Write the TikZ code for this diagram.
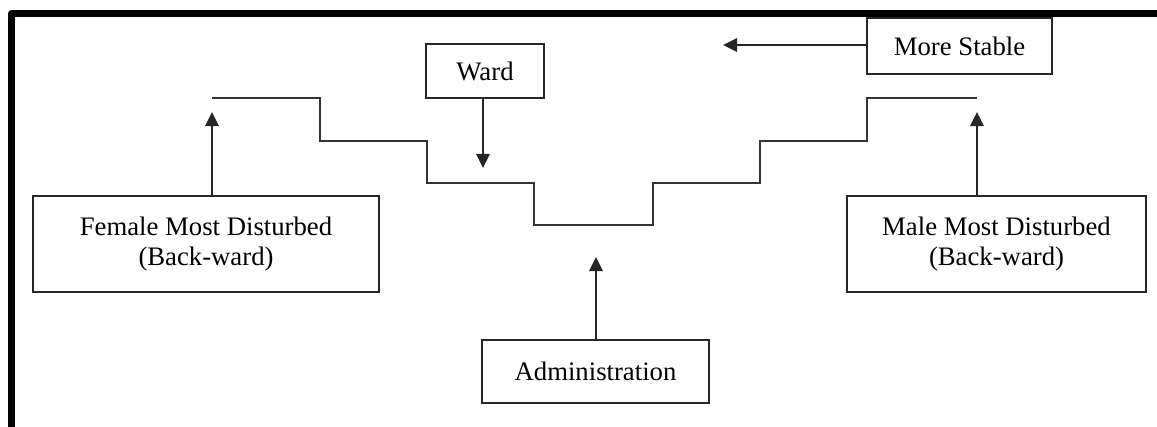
\documentclass[tikz,border=0pt]{standalone}
\usepackage{fontspec}
\setmainfont{Liberation Serif}
\usepackage{tikz}
\usetikzlibrary{positioning}
\usetikzlibrary{arrows.meta}
\tikzset{wardbox/.style={rectangle, draw=black!85, line width=1.4pt, align=center, inner sep=0pt, font=\fontsize{19}{21}\selectfont}}
\tikzset{stairline/.style={draw=black!80, line width=1.4pt}}
\tikzset{uparrow/.style={draw=black!85, line width=1.4pt, -{Triangle[length=10pt,width=9.5pt]}}}

\begin{document}
\begin{tikzpicture}[x=0.025cm, y=-0.025cm]
    \useasboundingbox (0,0) rectangle (1157,427);

    % frame
    \draw[line width=5pt, line join=round] (11.5,427) |- (1157,13.5);

    \node[wardbox, minimum width=8.65cm,  minimum height=2.4cm]   (female)  at (206,244)   {Female Most Disturbed\\(Back-ward)};
    \node[wardbox, minimum width=7.475cm, minimum height=2.4cm]   (male)    at (996.5,244) {Male Most Disturbed\\(Back-ward)};
    \node[wardbox, minimum width=2.95cm,  minimum height=1.35cm]  (ward)    at (485,71)    {Ward};
    \node[wardbox, minimum width=4.625cm, minimum height=1.4cm]   (stable)  at (959.5,46)  {More Stable};
    \node[wardbox, minimum width=5.675cm, minimum height=1.575cm] (admin)   at (595.5,371.5) {Administration};

    % the stairs
    \draw[stairline] (212,98) -- (320,98) -- (320,141) -- (427,141) -- (427,183) -- (534,183) -- (534,225)
        -- (653,225) -- (653,183) -- (760,183) -- (760,141) -- (867,141) -- (867,98) -- (977,98);

    \coordinate (ltip)      at (212,112);
    \coordinate (rtip)      at (977,112);
    \coordinate (wardtip)   at (483,168);
    \coordinate (admintip)  at (596,257);
    \coordinate (stabletip) at (723,45);

    \draw[uparrow] (female.north -| ltip) -- (ltip);
    \draw[uparrow] (male.north -| rtip) -- (rtip);
    \draw[uparrow] (ward.south -| wardtip) -- (wardtip);
    \draw[uparrow] (admin.north -| admintip) -- (admintip);
    \draw[uparrow] (stable.west |- stabletip) -- (stabletip);
\end{tikzpicture}
\end{document}
